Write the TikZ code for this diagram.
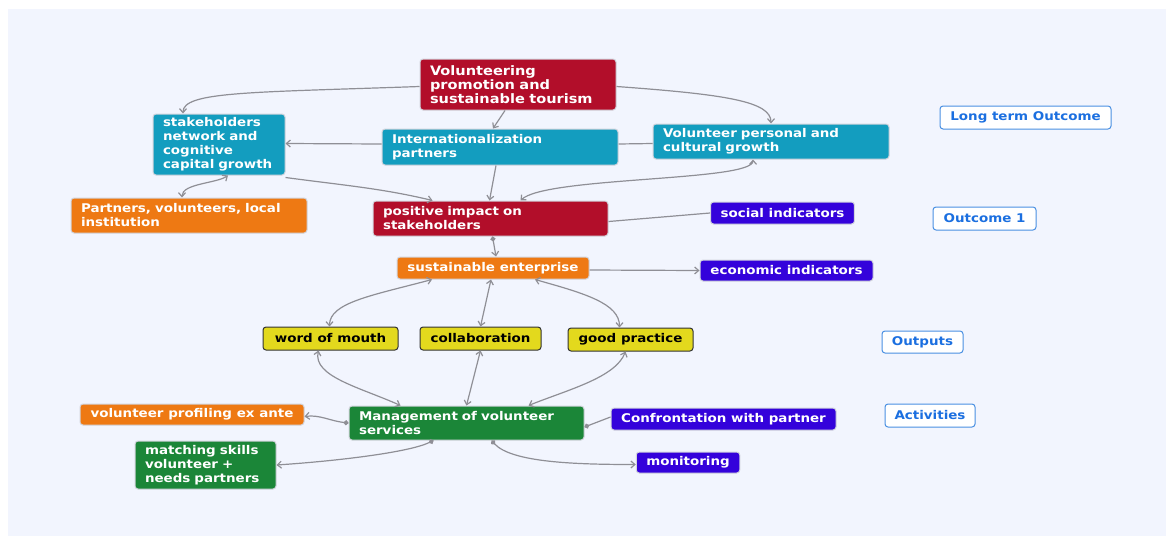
\documentclass[tikz,border=0pt]{standalone}
\usepackage{fontspec}
\setmainfont{DejaVu Sans}[FakeStretch=1.12]
\usepackage{xcolor}
\usetikzlibrary{arrows.meta}
\definecolor{Cloud}{HTML}{F2F5FE}
\definecolor{Crimson}{HTML}{B20E2A}
\definecolor{Teal}{HTML}{139DBF}
\definecolor{Amber}{HTML}{EE7913}
\definecolor{Indigo}{HTML}{3402DB}
\definecolor{Lemon}{HTML}{E3D91D}
\definecolor{Forest}{HTML}{1B8638}
\definecolor{Frame}{HTML}{D2D4DC}
\definecolor{Wire}{HTML}{8F8F96}
\definecolor{Sky}{HTML}{4A90E2}
\definecolor{SkyText}{HTML}{1B6FE0}

\begin{document}
\begin{tikzpicture}[
    x=1pt, y=-1pt,
    font=\fontsize{12}{14}\selectfont\bfseries,
    box/.style={
        rounded corners=3pt,
        draw=Frame,
        line width=1pt,
        text=white,
        inner xsep=10pt,
        inner ysep=2pt,
        align=left
    },
    redbox/.style={box, fill=Crimson},
    tealbox/.style={box, fill=Teal},
    orangebox/.style={box, fill=Amber},
    bluebox/.style={box, fill=Indigo, align=center},
    greenbox/.style={box, fill=Forest},
    yellowbox/.style={box, fill=Lemon, draw=black!80, text=black, align=center},
    levelbox/.style={
        rounded corners=3pt,
        draw=Sky,
        line width=1pt,
        fill=white,
        text=SkyText,
        align=center,
        font=\fontsize{12}{14}\selectfont\bfseries
    },
    arrow/.style={
        -{Straight Barb[length=4pt,width=7pt]},
        line width=1.2pt,
        draw=Wire
    },
    biarrow/.style={arrow, {Straight Barb[length=4pt,width=7pt]}-{Straight Barb[length=4pt,width=7pt]}},
    dotarrow/.style={arrow, {Circle[length=5pt]}-{Straight Barb[length=4pt,width=7pt]}},
    dotline/.style={arrow, -{Circle[length=5pt]}},
    plain/.style={line width=1.2pt, draw=Wire}
]

% Background
\useasboundingbox (0,0) rectangle (1166,536);
\fill[white] (0,0) rectangle (1166,536);
\fill[Cloud] (8,9) rectangle (1166,536);

% Long term outcome
\node[redbox, text width=176pt, minimum height=51pt,
      font=\fontsize{13}{14}\selectfont\bfseries] (promo) at (518,84.5)
{Volunteering\\promotion and\\sustainable tourism};

\node[tealbox, text width=112pt, minimum height=61pt] (network) at (219,144.5)
{stakeholders\\network and\\cognitive\\capital growth};

\node[tealbox, text width=216pt, minimum height=36pt] (intl) at (500,147)
{Internationalization\\partners};

\node[tealbox, text width=216pt, minimum height=35pt] (growth) at (771,141.5)
{Volunteer personal and\\cultural growth};

% Outcome 1
\node[orangebox, text width=216pt, minimum height=35pt] (partners) at (189,215.5)
{Partners, volunteers, local\\institution};

\node[redbox, text width=215pt, minimum height=35pt] (impact) at (490.5,218.5)
{positive impact on\\stakeholders};

\node[bluebox, minimum width=143pt, minimum height=22pt] (social) at (782.5,213)
{social indicators};

\node[orangebox, align=center, minimum width=192pt, minimum height=22pt] (enterprise) at (493,268)
{sustainable enterprise};

\node[bluebox, minimum width=173pt, minimum height=21pt] (economic) at (786.5,270.5)
{economic indicators};

% Outputs
\node[yellowbox, minimum width=135pt, minimum height=23pt] (mouth) at (330.5,338.5)
{word of mouth};

\node[yellowbox, minimum width=121pt, minimum height=23pt] (collab) at (480.5,338.5)
{collaboration};

\node[yellowbox, minimum width=125pt, minimum height=23pt] (practice) at (630.5,339.5)
{good practice};

% Activities
\node[greenbox, text width=215pt, minimum height=34pt] (manage) at (466.5,423)
{Management of volunteer\\services};

\node[orangebox, align=center, minimum width=224pt, minimum height=21pt] (profiling) at (192,414.5)
{volunteer profiling ex ante};

\node[bluebox, minimum width=225pt, minimum height=22pt] (confront) at (723.5,419)
{Confrontation with partner};

\node[greenbox, text width=121pt, minimum height=48pt] (matching) at (205.5,465)
{matching skills\\volunteer +\\needs partners};

\node[bluebox, minimum width=102pt, minimum height=21pt] (monitor) at (688,462.5)
{monitoring};

% Level labels
\node[levelbox, minimum width=171pt, minimum height=23pt] (lvllong) at (1025.5,117.5) {Long term Outcome};
\node[levelbox, minimum width=103pt, minimum height=23pt] (lvlone) at (984.5,218.5) {Outcome 1};
\node[levelbox, minimum width=81pt, minimum height=22pt] (lvlout) at (922.5,342) {Outputs};
\node[levelbox, minimum width=90pt, minimum height=23pt] (lvlact) at (930,415.5) {Activities};

% Connectors: top level
\draw[arrow] ([yshift=-2pt]promo.west) .. controls +(-170,6) and +(0,-22) .. ([xshift=-36pt]network.north);
\draw[arrow] ([yshift=-2pt]promo.east) .. controls +(110,8) and +(0,-22) .. (growth.north);
\draw[arrow] ([xshift=-13pt]promo.south) -- ([xshift=-7pt]intl.north);
\draw[arrow] ([yshift=3pt]intl.west) -- ([yshift=1pt]network.east);
\draw[plain] ([yshift=3pt]intl.east) -- ([yshift=-2pt]growth.west);
\draw[arrow] ([yshift=-2pt]network.south east) .. controls +(60,8) and +(-50,-12) .. ([xshift=-58pt]impact.north);
\draw[arrow] ([xshift=-4pt]intl.south) -- ([xshift=-1pt]impact.north);
\draw[biarrow] ([xshift=30pt]impact.north) .. controls +(25,-24) and +(0,22) .. ([xshift=-18pt]growth.south);
\draw[biarrow] ([xshift=-7pt]partners.north) .. controls +(0,-14) and +(-12,8) .. ([xshift=9pt]network.south);

% Connectors: outcome 1
\draw[plain] ([yshift=-3pt]impact.east) -- (social.west);
\draw[dotarrow] ([xshift=2pt]impact.south) -- ([xshift=3pt]enterprise.north);
\draw[arrow] ([yshift=-2pt]enterprise.east) -- (economic.west);

% Connectors: outputs
\draw[biarrow] ([xshift=-61pt]enterprise.south) .. controls +(-60,16) and +(0,-24) .. ([xshift=-1pt]mouth.north);
\draw[biarrow] ([xshift=-2pt]enterprise.south) -- (collab.north);
\draw[biarrow] ([xshift=42pt]enterprise.south) .. controls +(50,14) and +(0,-24) .. ([xshift=-11pt]practice.north);
\draw[biarrow] ([xshift=-12pt]mouth.south) .. controls +(-6,26) and +(-40,-18) .. ([xshift=-66pt]manage.north);
\draw[biarrow] (collab.south) -- (manage.north);
\draw[biarrow] ([xshift=-5pt]practice.south) .. controls +(-10,26) and +(40,-16) .. ([xshift=62pt]manage.north);

% Connectors: activities
\draw[dotarrow] (manage.west) .. controls +(-18,-2) and +(15,-2) .. ([yshift=-2pt]profiling.east);
\draw[dotarrow] ([xshift=-33pt]manage.south) .. controls +(-25,12) and +(60,-4) .. (matching.east);
\draw[dotarrow] ([xshift=25pt]manage.south) .. controls +(20,22) and +(-60,0) .. ([yshift=-2pt]monitor.west);
\draw[dotline] ([yshift=2pt]confront.west) -- ([yshift=-4pt]manage.east);

\end{tikzpicture}
\end{document}
